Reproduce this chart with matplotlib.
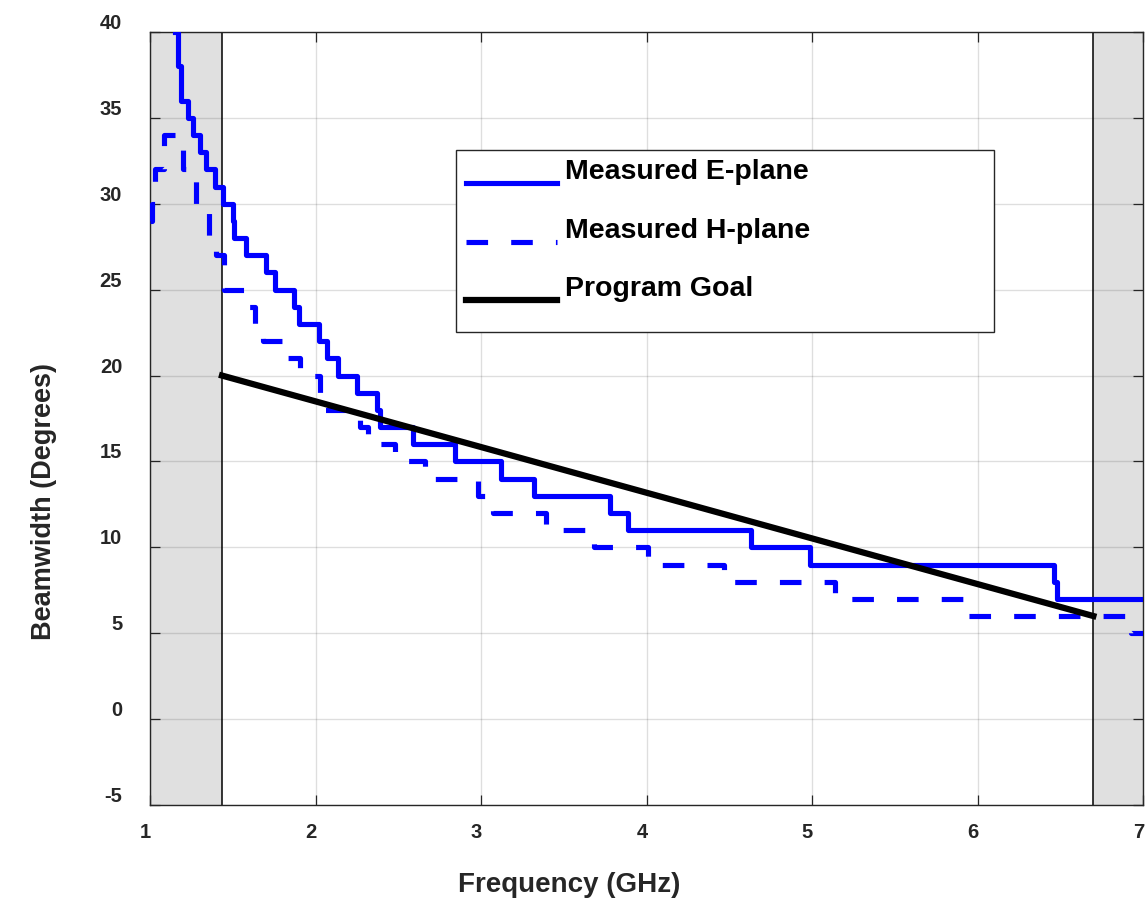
import matplotlib
matplotlib.use('Agg')
import matplotlib.pyplot as plt
from matplotlib.lines import Line2D
from matplotlib.legend_handler import HandlerLine2D
from matplotlib.patches import Rectangle
from matplotlib.transforms import ScaledTranslation

# ---------------- data ----------------
e_freq = [1.15, 1.17, 1.19, 1.23, 1.26, 1.30, 1.34, 1.39, 1.44, 1.50, 1.51, 1.58,
          1.70, 1.755, 1.87, 1.90, 2.02, 2.07, 2.135, 2.25, 2.37, 2.39, 2.59, 2.84,
          3.12, 3.32, 3.78, 3.89, 4.63, 4.99, 6.46, 6.48, 7.00]
e_bw = [40, 38, 36, 35, 34, 33, 32, 31, 30, 29, 28, 27,
        26, 25, 24, 23, 22, 21, 20, 19, 18, 17, 16, 15,
        14, 13, 12, 11, 10, 9, 8, 7, 7]

h_freq = [1.00, 1.01, 1.03, 1.085, 1.197, 1.28, 1.358, 1.40, 1.45, 1.575, 1.634,
          1.685, 1.83, 1.906, 2.03, 2.06, 2.27, 2.32, 2.48, 2.66, 2.98, 3.075,
          3.39, 3.68, 4.01, 4.47, 5.14, 5.92, 6.93, 7.00]
h_bw = [29, 30, 32, 34, 32, 30, 28, 27, 25, 24, 23,
        22, 21, 20, 19, 18, 17, 16, 15, 14, 13, 12,
        11, 10, 9, 8, 7, 6, 5, 5]

goal_freq = [1.435, 6.70]
goal_bw = [20, 6]

band_low = 1.435
band_high = 6.70

x_ticks = [1, 2, 3, 4, 5, 6, 7]
y_ticks = [-5, 0, 5, 10, 15, 20, 25, 30, 35, 40]

labels = ['Measured E-plane', 'Measured H-plane', 'Program Goal']

# ---------------- figure ----------------
plt.rcParams['font.family'] = ['Liberation Sans', 'DejaVu Sans']
plt.rcParams['font.weight'] = 'bold'

W, H = 1147, 903
fig = plt.figure(figsize=(W / 100, H / 100), dpi=100)
ax_l, ax_r, ax_t, ax_b = 150, 1143, 33, 806
ax = fig.add_axes([ax_l / W, (H - ax_b) / H, (ax_r - ax_l) / W, (ax_b - ax_t) / H])

ax.set_xlim(1, 7)
ax.set_ylim(-5, 40)

# shaded out-of-band regions
ax.axvspan(1, band_low, color='#e0e0e0', lw=0, zorder=0)
ax.axvspan(band_high, 7, color='#e0e0e0', lw=0, zorder=0)
ax.axvline(band_low, color='black', lw=1.1, zorder=1)
ax.axvline(band_high, color='black', lw=1.1, zorder=1)

ax.set_axisbelow(True)
ax.grid(True, color='#262626', alpha=0.15, lw=1.0)

le, = ax.plot(e_freq, e_bw, drawstyle='steps-post', color='blue', lw=3.7,
              label=labels[0], zorder=3)
lh, = ax.plot(h_freq, h_bw, drawstyle='steps-post', color='blue', lw=3.7,
              dashes=(4.2, 4.5), label=labels[1], zorder=3)
lg, = ax.plot(goal_freq, goal_bw, color='black', lw=4.5, label=labels[2], zorder=4)

ax.set_xticks(x_ticks)
ax.set_yticks(y_ticks)
ax.set_xticklabels([str(v) for v in x_ticks])
ax.set_yticklabels([str(v) for v in y_ticks])

ax.tick_params(direction='in', length=7, width=0.9, top=True, right=True,
               colors='#262626', labelsize=14.5)
ax.tick_params(axis='y', pad=20)
ax.tick_params(axis='x', pad=12)
for s in ax.spines.values():
    s.set_color('#262626')
    s.set_linewidth(1.0)

# shift tick labels like the reference
for t in ax.yaxis.get_major_ticks():
    t.label1.set_transform(t.label1.get_transform() +
                           ScaledTranslation(0, 11.5 / 100, fig.dpi_scale_trans))
for t in ax.xaxis.get_major_ticks():
    t.label1.set_transform(t.label1.get_transform() +
                           ScaledTranslation(-4.5 / 100, 0, fig.dpi_scale_trans))

ax.set_xlabel('Frequency (GHz)', fontsize=20, fontweight='bold', color='#262626')
ax.xaxis.set_label_coords((569 - ax_l) / (ax_r - ax_l), (ax_b - 885) / (ax_b - ax_t))
ax.xaxis.label.set_va('center')
ax.set_ylabel('Beamwidth (Degrees)', fontsize=19.5, fontweight='bold', color='#262626')
ax.yaxis.set_label_coords((44 - ax_l) / (ax_r - ax_l), (ax_b - 502) / (ax_b - ax_t))
ax.yaxis.label.set_va('center')


# legend
class ShiftedHandler(HandlerLine2D):
    def __init__(self, shift_pt, **kw):
        super().__init__(**kw)
        self.shift = shift_pt

    def create_artists(self, legend, orig_handle, xdescent, ydescent, width,
                       height, fontsize, trans):
        return super().create_artists(legend, orig_handle, xdescent,
                                      ydescent + 2 * self.shift, width, height,
                                      fontsize, trans)


def ax_x(px):
    return (px - ax_l) / (ax_r - ax_l)


def ax_y(py):
    return (ax_b - py) / (ax_b - ax_t)


frame = Rectangle((ax_x(456), ax_y(333)), ax_x(994) - ax_x(456), ax_y(151) - ax_y(333),
                  transform=ax.transAxes, facecolor='white', edgecolor='#262626',
                  lw=1.0, zorder=5)
ax.add_patch(frame)

fs = 20.5
leg = ax.legend(handles=[le, lh, lg], loc='upper left',
                bbox_to_anchor=(ax_x(466), ax_y(159.5)), frameon=False,
                prop={'size': fs, 'weight': 'bold'},
                handlelength=(91 * 0.72) / fs, handletextpad=(8 * 0.72) / fs,
                labelspacing=1.14, borderpad=0, borderaxespad=0,
                handler_map={Line2D: ShiftedHandler(10.5)})
leg.set_zorder(6)

fig.savefig('out.png', dpi=100)
